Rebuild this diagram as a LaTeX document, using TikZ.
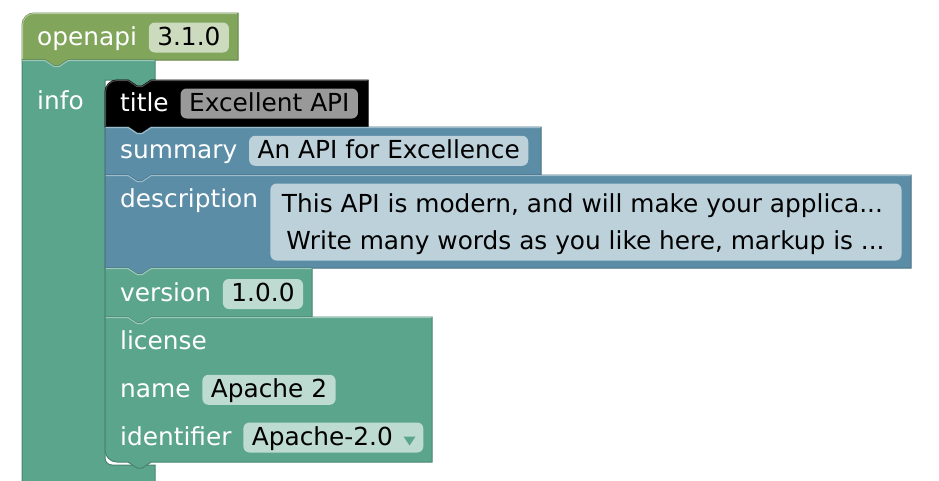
\documentclass[tikz,border=0pt]{standalone}
\usepackage{fontspec}
\setmainfont{DejaVu Sans}
\usetikzlibrary{positioning}
\definecolor{oacol}{HTML}{80A55B}
\definecolor{infocol}{HTML}{5BA58C}
\definecolor{sumcol}{HTML}{5B8DA6}
\begin{document}
\begin{tikzpicture}[x=1pt,y=-1pt,
    lbl/.style={font=\fontsize{24.8}{30}\selectfont,text=white,inner sep=0pt,text height=22.5pt,text depth=7.5pt,anchor=base west},
    val/.style={lbl,text=black,fill=white!60!#1,rounded corners=6pt,inner xsep=8.5pt},
    block/.style={fill=#1,draw=#1!80!black,line width=1pt},
    hl/.style={draw=#1,line width=1pt},
    notchin/.style={insert path={-- ++(9.3,6.2) -- ++(4.65,0) -- ++(9.3,-6.2)}},
    tabout/.style={insert path={-- ++(-9.3,6.2) -- ++(-4.65,0) -- ++(-9.3,-6.2)}}]
    \useasboundingbox (0,0) rectangle (939,480);

    % blocks, parent first
    \path[block=oacol] (22,60) -- (22,25) .. controls (22,18.4) and (27.4,13) .. (34,13) -- (238,13) -- (238,60) -- (68.25,60) [tabout] -- cycle;
    \draw[hl=oacol!60!white] (22.5,59) -- (22.5,25) .. controls (22.5,18.7) and (27.7,13.5) .. (34,13.5) -- (237,13.5);
    \path[block=infocol] (22,60) -- (45,60) [notchin] -- (155,60) -- (155,80) -- (151.25,80) [tabout] -- (105,80) -- (105,458) .. controls (105,461.9) and (108.1,465) .. (112,465) -- (155,465) -- (155,490) -- (22,490) -- cycle;
    \draw[hl=infocol!60!white] (22,60.5) -- (45,60.5) [notchin] -- (154.5,60.5);
    \path[block=black] (105,127) -- (105,92) .. controls (105,85.4) and (110.4,80) .. (117,80) -- (128,80) [notchin] -- (368,80) -- (368,127) -- (151.25,127) [tabout] -- cycle;
    \draw[hl=black!70!white] (105.5,126) -- (105.5,92) .. controls (105.5,85.7) and (110.7,80.5) .. (117,80.5) -- (128,80.5) [notchin] -- (367.5,80.5);
    \path[block=sumcol] (105,175) -- (105,127) -- (128,127) [notchin] -- (541,127) -- (541,175) -- (151.25,175) [tabout] -- cycle;
    \draw[hl=sumcol!60!white] (105.5,127.5) -- (128,127.5) [notchin] -- (540.5,127.5);
    \path[block=sumcol] (105,268) -- (105,175) -- (128,175) [notchin] -- (911,175) -- (911,268) -- (151.25,268) [tabout] -- cycle;
    \draw[hl=sumcol!60!white] (105.5,175.5) -- (128,175.5) [notchin] -- (910.5,175.5);
    \path[block=infocol] (105,317) -- (105,268) -- (128,268) [notchin] -- (312,268) -- (312,317) -- (151.25,317) [tabout] -- cycle;
    \draw[hl=infocol!60!white] (105.5,268.5) -- (128,268.5) [notchin] -- (311.5,268.5);
    \path[block=infocol] (105,317) -- (128,317) [notchin] -- (432,317) -- (432,462) -- (151.25,462) [tabout] -- (117,462) .. controls (110.4,462) and (105,456.6) .. (105,450) -- cycle;
    \draw[hl=infocol!60!white] (105.5,317.5) -- (128,317.5) [notchin] -- (431.5,317.5);

    % labels and fields
    \node[lbl] (oa) at (37,45) {openapi};
    \node[val=oacol] (oav) [base right=11.5pt of oa] {3.1.0};
    \node[lbl] (info) at (37,109.5) {info};
    \node[lbl] (title) at (120,111) {title};
    \node[val=black] (titlev) [base right=11.5pt of title] {Excellent API};
    \node[lbl] (summ) at (120,158.3) {summary};
    \node[val=sumcol] (summv) [base right=11.5pt of summ] {An API for Excellence};
    \node[lbl] (desc) at (120,207.3) {description};
    \node[val=sumcol,minimum width=631pt,minimum height=77pt,anchor=north west] (descv) at ([xshift=12pt,yshift=24pt]desc.base east) {};
    \node[lbl,text=black] (line1) at ([xshift=11.5pt,yshift=-29.4pt]descv.north west) {This API is modern, and will make your applica...};
    \node[lbl,text=black] (line2) at ([xshift=4.5pt,yshift=-36.3pt]line1.base west) {Write many words as you like here, markup is ...};
    \node[lbl] (ver) at (120,301.5) {version};
    \node[val=infocol] (verv) [base right=11.5pt of ver] {1.0.0};
    \node[lbl] (lic) at (120,349.3) {license};
    \node[lbl] (name) at (120,397.3) {name};
    \node[val=infocol] (namev) [base right=11.5pt of name] {Apache 2};
    \node[lbl] (ident) at (120,445) {identifier};
    \node[val=infocol] (identv) [base right=11.5pt of ident] {Apache-2.0\kern22pt};
    \fill[infocol] ([xshift=-20pt,yshift=1pt]identv.east) -- ++(12,0) -- ++(-6,9) -- cycle;
\end{tikzpicture}
\end{document}
